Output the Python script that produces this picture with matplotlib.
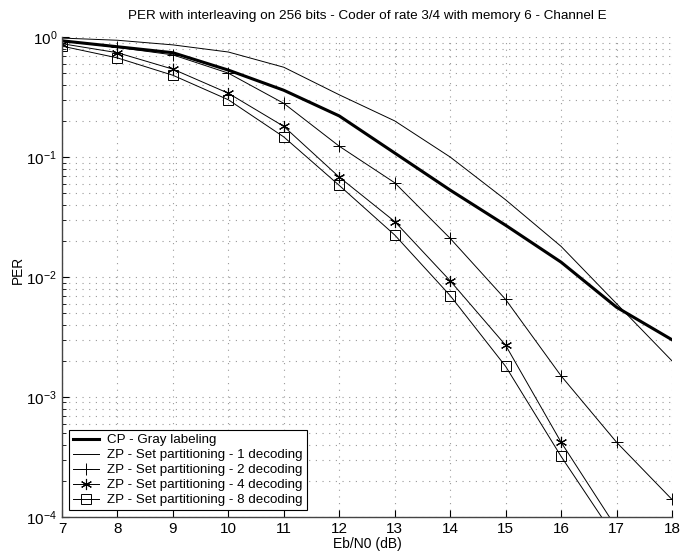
import matplotlib
matplotlib.use("Agg")
import matplotlib.pyplot as plt
from matplotlib.ticker import LogLocator, NullFormatter

plt.rcParams['font.family'] = ['Liberation Sans', 'DejaVu Sans']

ebn0 = [7, 8, 9, 10, 11, 12, 13, 14, 15, 16, 17, 18]
cp_gray = [0.93, 0.83, 0.74, 0.53, 0.36, 0.22, 0.108, 0.053, 0.027, 0.0133, 0.0056, 0.0030]
zp_1dec = [0.98, 0.94, 0.86, 0.75, 0.56, 0.33, 0.20, 0.10, 0.044, 0.018, 0.006, 0.002]
zp_2dec = [0.93, 0.82, 0.71, 0.50, 0.28, 0.123, 0.061, 0.021, 0.0065, 0.0015, 0.00042, 0.00014]
zp_4dec = [0.88, 0.74, 0.54, 0.34, 0.18, 0.068, 0.029, 0.0093, 0.0027, 0.00042, 0.000081]
zp_8dec = [0.84, 0.67, 0.48, 0.30, 0.147, 0.058, 0.0224, 0.0070, 0.0018, 0.00032, 0.000065]

labels = ["CP - Gray labeling",
          "ZP - Set partitioning - 1 decoding",
          "ZP - Set partitioning - 2 decoding",
          "ZP - Set partitioning - 4 decoding",
          "ZP - Set partitioning - 8 decoding"]

fig = plt.figure(figsize=(6.91, 5.51), dpi=100)
ax = fig.add_axes([0.0897, 0.0617, 0.8828, 0.8711])

ax.plot(ebn0, cp_gray, color='black', lw=2.2, label=labels[0])
ax.plot(ebn0, zp_1dec, color='black', lw=0.7, label=labels[1])
ax.plot(ebn0, zp_2dec, color='black', lw=0.7, marker='+', ms=8, mew=0.7, label=labels[2])
ax.plot(ebn0[:len(zp_4dec)], zp_4dec, color='black', lw=0.7, marker=(6, 2, 0), ms=8, mew=0.8, label=labels[3])
ax.plot(ebn0[:len(zp_8dec)], zp_8dec, color='black', lw=0.7, marker='s', ms=7, mew=0.7,
        mfc='none', label=labels[4])

ax.set_yscale('log')
ax.set_xlim(7, 18)
ax.set_ylim(1e-4, 1)
ax.set_xticks(range(7, 19))
ax.yaxis.set_major_locator(LogLocator(base=10, numticks=10))
ax.yaxis.set_minor_locator(LogLocator(base=10, subs=range(2, 10), numticks=100))
ax.yaxis.set_minor_formatter(NullFormatter())

ax.grid(True, which='major', linestyle=(0, (1, 5)), color='#999999', lw=0.8)
ax.grid(True, which='minor', axis='y', linestyle=(0, (1, 5)), color='#999999', lw=0.8)

for s in ['top', 'right']:
    ax.spines[s].set_visible(False)
for s in ['left', 'bottom']:
    ax.spines[s].set_color('#444444')
    ax.spines[s].set_linewidth(1.0)

ax.tick_params(which='both', direction='in', labelsize=11, top=False, right=False)
ax.tick_params(which='major', length=5)
ax.tick_params(which='minor', length=3)

ax.set_xlabel('Eb/N0 (dB)', fontsize=10, labelpad=1)
ax.set_ylabel('PER', fontsize=9.8)
ax.yaxis.set_label_coords(-0.0607, 0.515)
ax.set_title('PER with interleaving on 256 bits - Coder of rate 3/4 with memory 6 - Channel E',
             fontsize=9.7, pad=13)

leg = ax.legend(loc='lower left', fontsize=9.6, frameon=True, fancybox=False, framealpha=1,
                edgecolor='black', borderaxespad=0.5, handlelength=2.0, labelspacing=0.2,
                borderpad=0.3, handletextpad=0.6)
leg.get_frame().set_linewidth(0.8)

fig.savefig('out.png', dpi=100)
